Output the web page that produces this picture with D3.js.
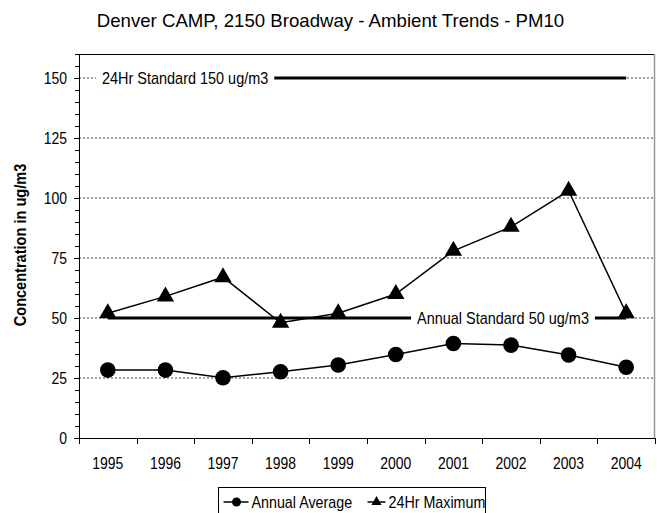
<!DOCTYPE html>
<html>
<head>
<meta charset="utf-8">
<script src="https://cdn.jsdelivr.net/npm/d3@7"></script>
<style>
body { margin: 0; background: #fff; }
text { font-family: "Liberation Sans", Arial, sans-serif; fill: #000; }
</style>
</head>
<body>
<script>
var years = ["1995", "1996", "1997", "1998", "1999", "2000", "2001", "2002", "2003", "2004"];
var annualAverage = [28.3, 28.3, 25.1, 27.6, 30.4, 34.8, 39.4, 38.7, 34.6, 29.5];
var maxDaily = [52, 59, 67, 48, 52, 60, 78, 88, 103, 52];
var standard24 = 150;
var standardAnnual = 50;
var yTicks = [0, 25, 50, 75, 100, 125, 150];

// the source chart uses a narrow face; squeeze Arial-like text to match
function squeeze(sel, f) {
    sel.each(function () {
        var w = this.getComputedTextLength();
        d3.select(this)
            .attr("textLength", w * f)
            .attr("lengthAdjust", "spacingAndGlyphs");
    });
}

var svg = d3.select("body").append("svg")
    .attr("width", 661)
    .attr("height", 513);

var margin = { top: 54, right: 6, bottom: 75, left: 79 },
    width = +svg.attr("width") - margin.left - margin.right,
    height = +svg.attr("height") - margin.top - margin.bottom,
    g = svg.append("g").attr("transform", "translate(" + margin.left + "," + margin.top + ")");

var x = d3.scaleBand().domain(years).range([0, width]);
var y = d3.scaleLinear().domain([0, 160]).range([height, 0]);
var cx = function (d, i) { return x(years[i]) + x.bandwidth() / 2; };

// title
svg.append("text")
    .attr("x", 330.5)
    .attr("y", 27)
    .style("text-anchor", "middle")
    .style("font-size", "19px")
    .text("Denver CAMP, 2150 Broadway - Ambient Trends - PM10")
    .call(squeeze, 0.98);

// grid
g.selectAll(".grid")
    .data(yTicks.slice(1))
    .enter().append("line")
    .attr("x1", 0).attr("x2", width)
    .attr("y1", y).attr("y2", y)
    .attr("stroke", "#444")
    .attr("stroke-dasharray", "2,2");

// frame top + right
g.append("line").attr("x1", 0).attr("x2", width).attr("y1", 0.5).attr("y2", 0.5).attr("stroke", "#000");
g.append("line").attr("x1", width - 0.5).attr("x2", width - 0.5).attr("y1", 0).attr("y2", height).attr("stroke", "#999").attr("stroke-width", 1.5);

// y axis
var yAxis = g.append("g")
    .call(d3.axisLeft(y).tickValues(yTicks).tickSize(5).tickPadding(7))
    .call(function (a) { a.select(".domain").attr("d", "M0.5,0V" + height); });
yAxis.selectAll("text").style("font-size", "17px").call(squeeze, 0.82);
g.append("g")
    .selectAll("line")
    .data(d3.range(0, 161, 5))
    .enter().append("line")
    .attr("x1", -4).attr("x2", 0)
    .attr("y1", function (d) { return Math.round(y(d)) + 0.5; })
    .attr("y2", function (d) { return Math.round(y(d)) + 0.5; })
    .attr("stroke", "#000");

// x axis
var xAxis = g.append("g")
    .attr("transform", "translate(0," + height + ")")
    .call(d3.axisBottom(x).tickSize(0).tickPadding(19));
xAxis.select(".domain").attr("d", "M0,0.5H" + width);
xAxis.selectAll("text").style("font-size", "16.5px").call(squeeze, 0.845);
xAxis.append("g")
    .selectAll("line")
    .data(years.concat(["end"]))
    .enter().append("line")
    .attr("x1", function (d, i) { return Math.round(i * x.bandwidth()) + 0.5; })
    .attr("x2", function (d, i) { return Math.round(i * x.bandwidth()) + 0.5; })
    .attr("y1", 0).attr("y2", 6)
    .attr("stroke", "#000");

// y label
svg.append("text")
    .attr("transform", "translate(26,245) rotate(-90)")
    .style("text-anchor", "middle")
    .style("font-weight", "bold")
    .style("font-size", "16px")
    .text("Concentration in ug/m3")
    .call(squeeze, 0.91);

// standards
function standard(val, labelX, label) {
    var line = d3.line().x(cx).y(function () { return y(val); });
    g.append("path")
        .datum(years)
        .attr("d", line)
        .attr("fill", "none")
        .attr("stroke", "#000")
        .attr("stroke-width", 3);
    var t = g.append("text")
        .attr("x", labelX)
        .attr("y", y(val))
        .attr("dy", "0.36em")
        .style("font-size", "17px")
        .text(label)
        .call(squeeze, 0.85);
    var bb = t.node().getBBox();
    g.insert("rect", function () { return t.node(); })
        .attr("x", bb.x - 6).attr("y", bb.y)
        .attr("width", bb.width + 12).attr("height", bb.height)
        .attr("fill", "#fff");
}
standard(standard24, 23, "24Hr Standard 150 ug/m3");
standard(standardAnnual, 338, "Annual Standard 50 ug/m3");

// series
var line = d3.line().x(cx).y(function (d) { return y(d); });
g.append("path").datum(maxDaily).attr("d", line)
    .attr("fill", "none").attr("stroke", "#000").attr("stroke-width", 1.5);
g.append("path").datum(annualAverage).attr("d", line)
    .attr("fill", "none").attr("stroke", "#000").attr("stroke-width", 1.5);

var tri = d3.symbol().type(d3.symbolTriangle).size(130);
g.selectAll(".tri")
    .data(maxDaily)
    .enter().append("path")
    .attr("d", tri)
    .attr("transform", function (d, i) { return "translate(" + cx(d, i) + "," + y(d) + ")"; })
    .attr("fill", "#000");
g.selectAll(".dot")
    .data(annualAverage)
    .enter().append("circle")
    .attr("cx", cx)
    .attr("cy", y)
    .attr("r", 7.8)
    .attr("fill", "#000");

// legend
var legend = svg.append("g").attr("transform", "translate(218.5,487.5)");
legend.append("rect")
    .attr("width", 267).attr("height", 30)
    .attr("fill", "#fff").attr("stroke", "#000");
var items = [
    { label: "Annual Average", shape: "circle", x: 5, w: 25 },
    { label: "24Hr Maximum", shape: "triangle", x: 149, w: 18 }
];
var li = legend.selectAll(".item")
    .data(items)
    .enter().append("g")
    .attr("transform", function (d) { return "translate(" + d.x + ",14.5)"; });
li.append("line").attr("x1", 0).attr("x2", function (d) { return d.w; })
    .attr("stroke", "#000").attr("stroke-width", 1.5);
li.filter(function (d) { return d.shape === "circle"; })
    .append("circle").attr("cx", 13).attr("r", 4.5);
li.filter(function (d) { return d.shape === "triangle"; })
    .append("path").attr("d", d3.symbol().type(d3.symbolTriangle).size(45)).attr("transform", "translate(9,0)");
li.append("text")
    .attr("x", function (d) { return d.w + 3; })
    .attr("dy", "0.36em")
    .style("font-size", "17px")
    .text(function (d) { return d.label; })
    .call(squeeze, 0.84);
</script>
</body>
</html>
